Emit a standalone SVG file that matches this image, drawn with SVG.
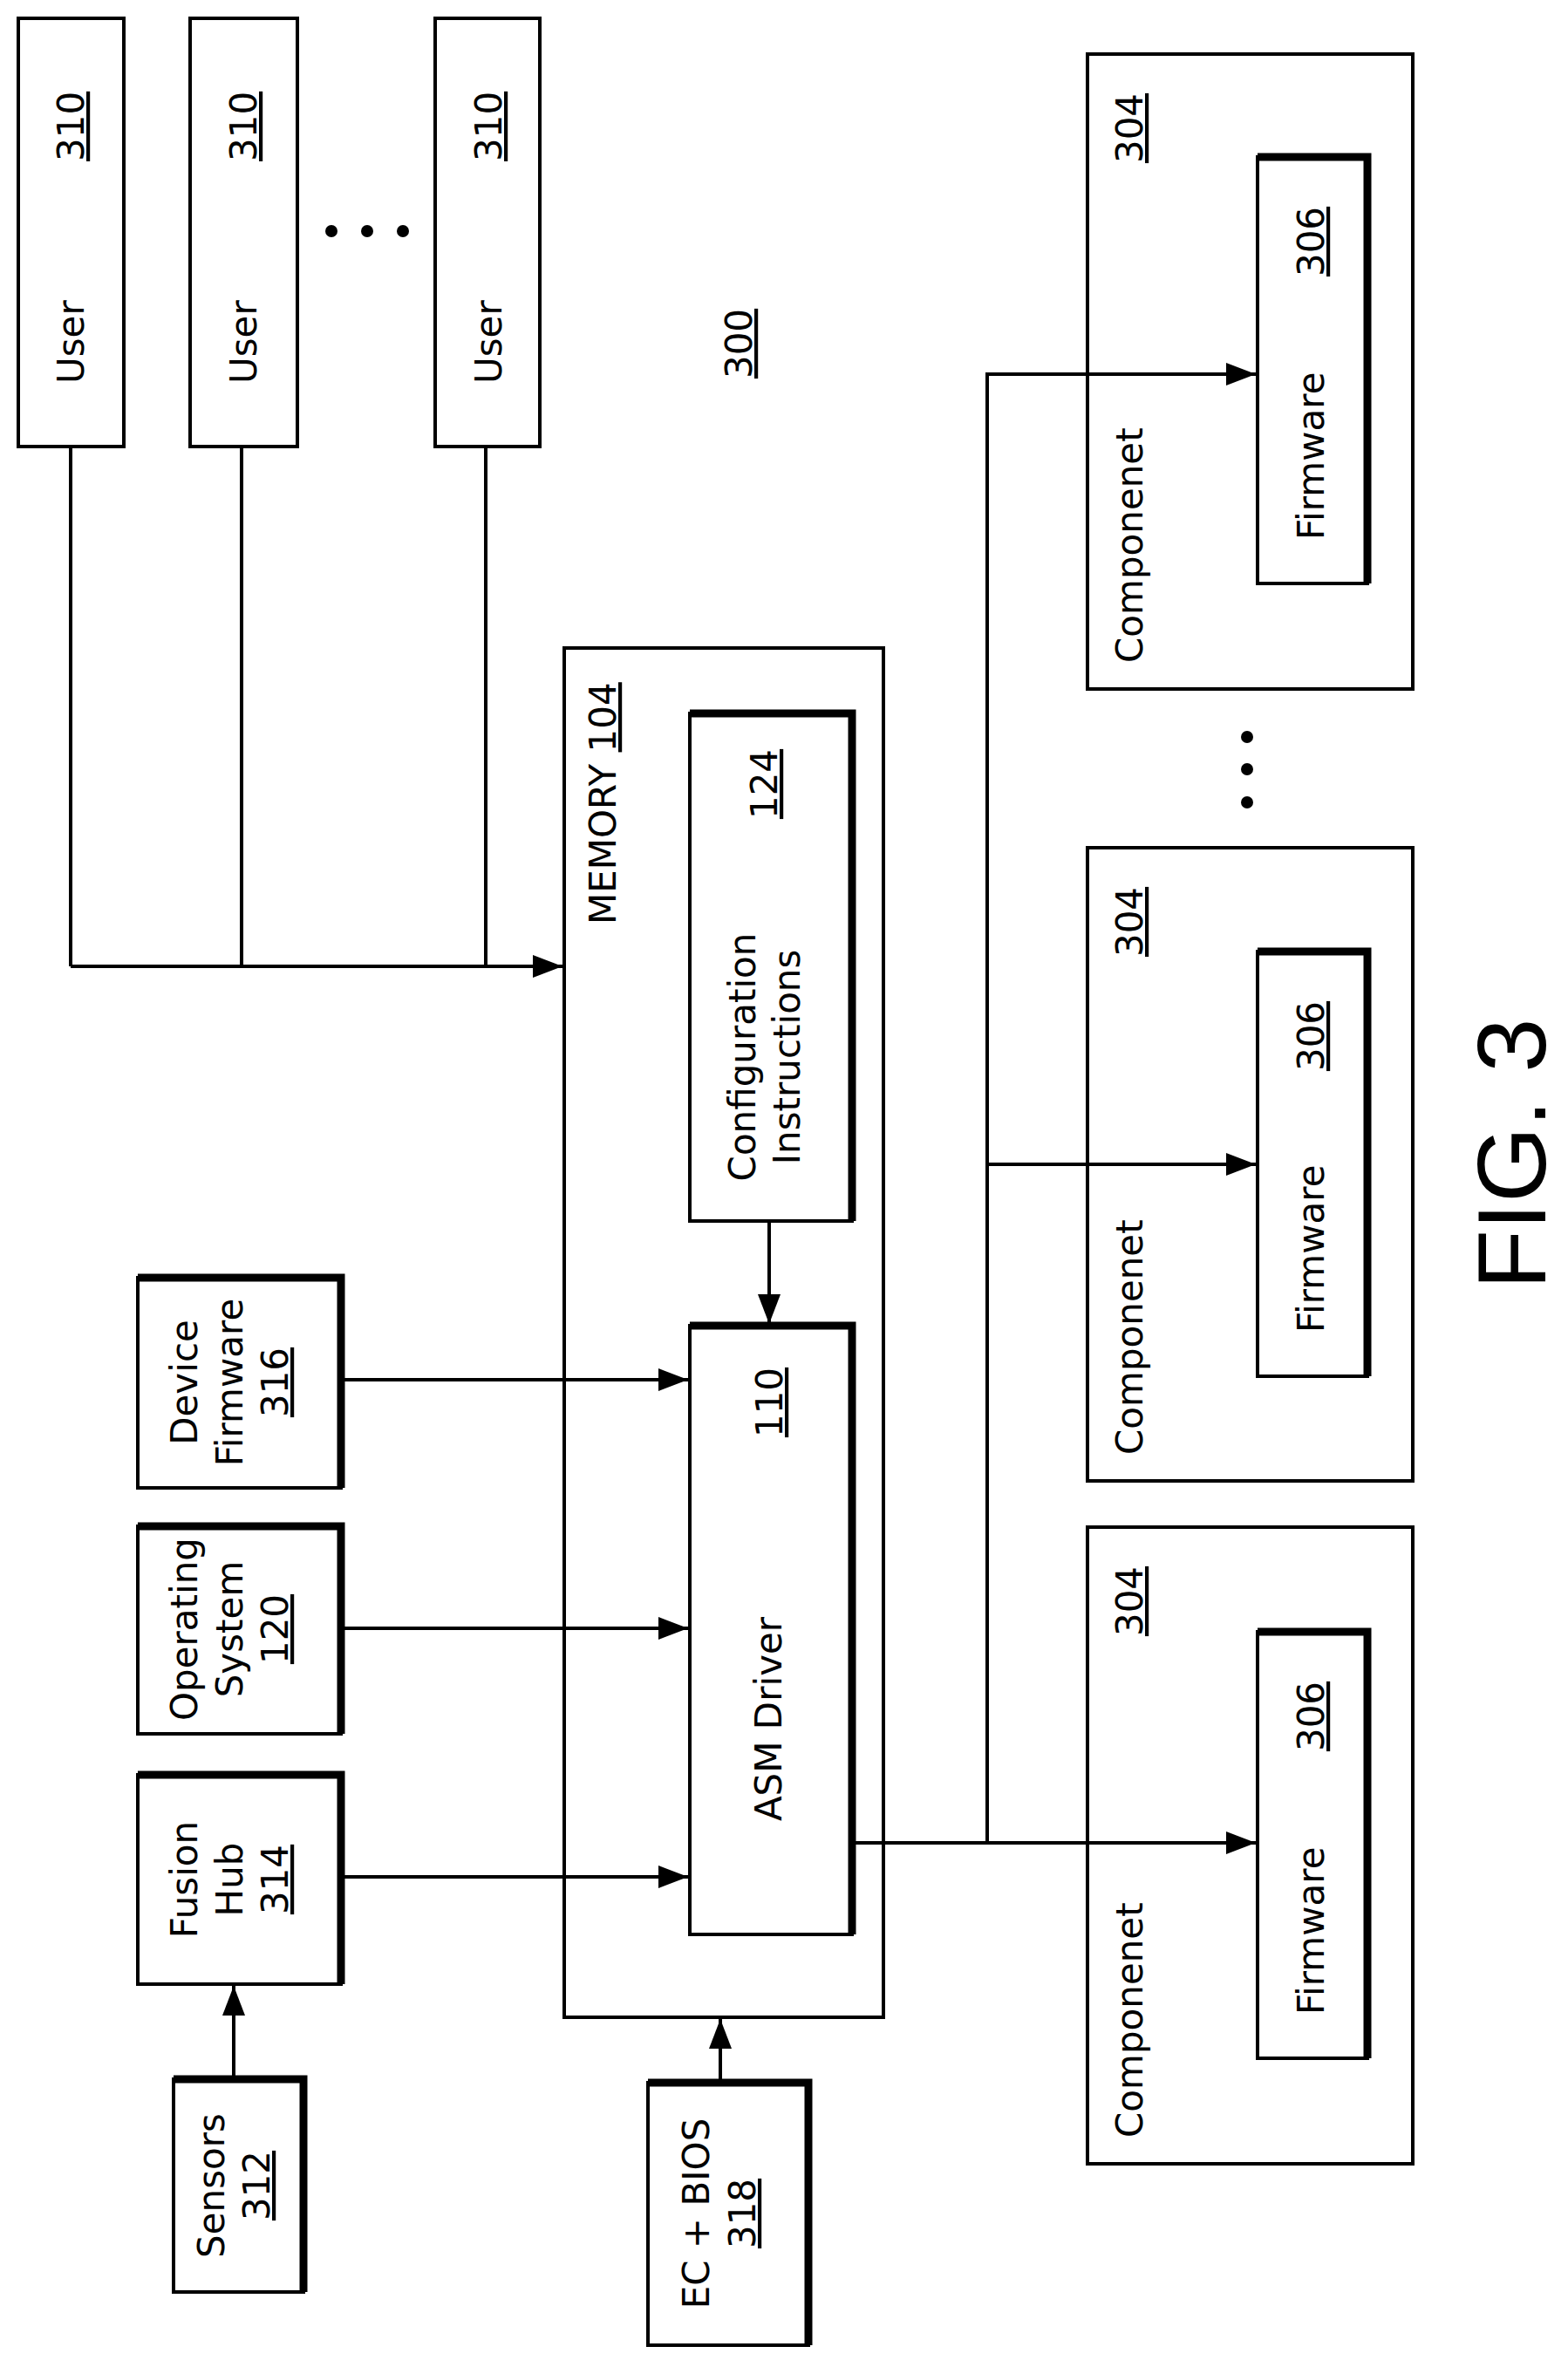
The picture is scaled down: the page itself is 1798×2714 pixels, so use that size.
<svg xmlns="http://www.w3.org/2000/svg" width="1798" height="2714" viewBox="0 0 1798 2714">
<style>
.b{fill:#fff;stroke:#000;stroke-width:4}
.s{fill:none;stroke:#000;stroke-width:9}
.l{fill:none;stroke:#000;stroke-width:4}
text{font-family:"DejaVu Sans",sans-serif;font-size:42px;fill:#000}
.m{text-anchor:middle}
.u{text-decoration:underline}
</style>
<defs>
<marker id="ah" markerWidth="34" markerHeight="26" refX="34" refY="13" orient="auto" markerUnits="userSpaceOnUse" viewBox="0 0 34 26"><path d="M0,0L34,13L0,26z"/></marker></defs>
<g id="user1"><rect class="b" x="21" y="21" width="121" height="491"/><text transform="translate(96,440) rotate(-90)">User</text><text class="u" transform="translate(96,185) rotate(-90)">310</text></g>
<g id="user2"><rect class="b" x="218" y="21" width="123" height="491"/><text transform="translate(294,440) rotate(-90)">User</text><text class="u" transform="translate(294,185) rotate(-90)">310</text></g>
<g id="user3"><rect class="b" x="499" y="21" width="120" height="491"/><text transform="translate(575,440) rotate(-90)">User</text><text class="u" transform="translate(575,185) rotate(-90)">310</text></g>
<g id="dots1"><circle cx="380" cy="265" r="7"/><circle cx="421" cy="265" r="7"/><circle cx="462" cy="265" r="7"/></g>
<text id="label300" class="u m" transform="translate(862,394) rotate(-90)">300</text>
<g id="memory"><rect class="b" x="647" y="743" width="366" height="1570"/><text transform="translate(706,1060) rotate(-90)">MEMORY <tspan class="u">104</tspan></text></g>
<g id="config"><rect class="b" x="791" y="818" width="186" height="582"/><path class="s" d="M791 818H977V1400"/><text class="m" transform="translate(866,1212) rotate(-90)">Configuration</text><text class="m" transform="translate(917,1212) rotate(-90)">Instructions</text><text class="u m" transform="translate(891,899) rotate(-90)">124</text></g>
<g id="asm"><rect class="b" x="791" y="1520" width="186" height="698"/><path class="s" d="M791 1520H977V2218"/><text class="m" transform="translate(896,1971) rotate(-90)">ASM Driver</text><text class="u m" transform="translate(897,1608) rotate(-90)">110</text></g>
<g id="devfw"><rect class="b" x="158" y="1465" width="233" height="241"/><path class="s" d="M158 1465H391V1706"/><text class="m" transform="translate(226,1585) rotate(-90)">Device</text><text class="m" transform="translate(278,1585) rotate(-90)">Firmware</text><text class="u m" transform="translate(330,1585) rotate(-90)">316</text></g>
<g id="os"><rect class="b" x="158" y="1750" width="233" height="238"/><path class="s" d="M158 1750H391V1988"/><text class="m" transform="translate(226,1868) rotate(-90)">Operating</text><text class="m" transform="translate(278,1868) rotate(-90)">System</text><text class="u m" transform="translate(330,1868) rotate(-90)">120</text></g>
<g id="fusion"><rect class="b" x="158" y="2035" width="233" height="240"/><path class="s" d="M158 2035H391V2275"/><text class="m" transform="translate(226,2155) rotate(-90)">Fusion</text><text class="m" transform="translate(278,2155) rotate(-90)">Hub</text><text class="u m" transform="translate(330,2155) rotate(-90)">314</text></g>
<g id="sensors"><rect class="b" x="199" y="2384" width="149" height="244"/><path class="s" d="M199 2384H348V2628"/><text class="m" transform="translate(257,2506) rotate(-90)">Sensors</text><text class="u m" transform="translate(309,2506) rotate(-90)">312</text></g>
<g id="ecbios"><rect class="b" x="743" y="2388" width="184" height="301"/><path class="s" d="M743 2388H927V2689"/><text class="m" transform="translate(813,2538) rotate(-90)">EC + BIOS</text><text class="u m" transform="translate(866,2538) rotate(-90)">318</text></g>
<g id="comp1"><rect class="b" x="1247" y="62" width="373" height="728"/><text transform="translate(1310,760) rotate(-90)">Componenet</text><text class="u m" transform="translate(1310,147) rotate(-90)">304</text>
<rect class="b" x="1442" y="180" width="126" height="489"/><path class="s" d="M1442 180H1568V669"/><text transform="translate(1518,619) rotate(-90)">Firmware</text><text class="u m" transform="translate(1518,277) rotate(-90)">306</text></g>
<g id="comp2"><rect class="b" x="1247" y="972" width="373" height="726"/><text transform="translate(1310,1668) rotate(-90)">Componenet</text><text class="u m" transform="translate(1310,1057) rotate(-90)">304</text>
<rect class="b" x="1442" y="1091" width="126" height="487"/><path class="s" d="M1442 1091H1568V1578"/><text transform="translate(1518,1528) rotate(-90)">Firmware</text><text class="u m" transform="translate(1518,1188) rotate(-90)">306</text></g>
<g id="comp3"><rect class="b" x="1247" y="1751" width="373" height="730"/><text transform="translate(1310,2451) rotate(-90)">Componenet</text><text class="u m" transform="translate(1310,1836) rotate(-90)">304</text>
<rect class="b" x="1442" y="1871" width="126" height="489"/><path class="s" d="M1442 1871H1568V2360"/><text transform="translate(1518,2310) rotate(-90)">Firmware</text><text class="u m" transform="translate(1518,1968) rotate(-90)">306</text></g>
<g id="dots2"><circle cx="1430" cy="845" r="7"/><circle cx="1430" cy="882" r="7"/><circle cx="1430" cy="920" r="7"/></g>
<text id="fig" class="m" style="font-family:'Liberation Sans',sans-serif;font-size:112px" transform="translate(1772,1323) rotate(-90)">FIG. 3</text>
<g id="connectors" class="l">
<path d="M81 512V1108M277 512V1108M557 512V1108M81 1108H645" marker-end="url(#ah)"/>
<path d="M882 1400V1518" marker-end="url(#ah)"/>
<path d="M391 1582H789" marker-end="url(#ah)"/>
<path d="M391 1867H789" marker-end="url(#ah)"/>
<path d="M391 2152H789" marker-end="url(#ah)"/>
<path d="M268 2382V2277" marker-end="url(#ah)"/>
<path d="M826 2386V2315" marker-end="url(#ah)"/>
<path d="M979 2113H1440" marker-end="url(#ah)"/>
<path d="M1132 2113V429H1440" marker-end="url(#ah)"/>
<path d="M1132 1335H1440" marker-end="url(#ah)"/>
</g>
</svg>
